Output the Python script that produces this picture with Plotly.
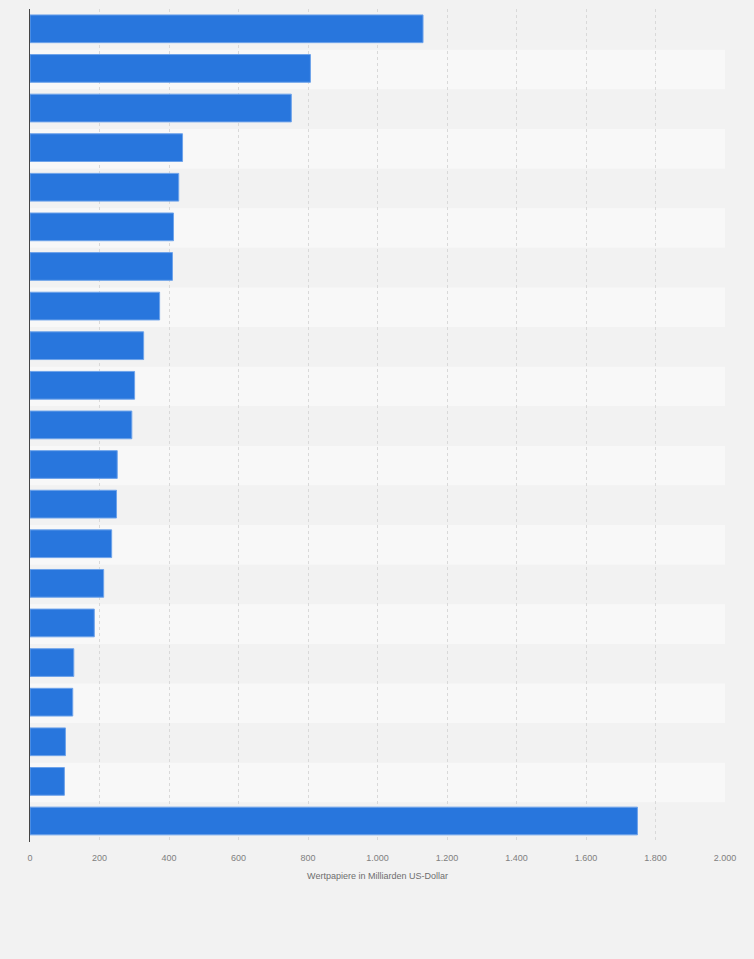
import plotly.graph_objects as go

# Werte in Milliarden US-Dollar (von oben nach unten)
categories = [f"Position {i}" for i in range(1, 22)]
values = [1131, 807, 752, 439, 428, 413, 410, 373, 327, 301, 293,
          251, 249, 235, 212, 185, 126, 123, 102, 99, 1748]
tick_values = [0, 200, 400, 600, 800, 1000, 1200, 1400, 1600, 1800, 2000]
x_title = "Wertpapiere in Milliarden US-Dollar"

fig = go.Figure()
fig.add_trace(
    go.Bar(
        x=values,
        y=categories,
        orientation="h",
        marker={"color": "#2876dd", "line": {"color": "#6ea3ea", "width": 1}},
        hoverinfo="x",
    )
)

# abwechselnde Zeilenstreifen
shapes = []
for i in range(len(categories)):
    shapes.append(
        dict(
            type="rect",
            xref="paper",
            yref="y",
            x0=0,
            x1=1,
            y0=i - 0.47,
            y1=i + 0.53,
            fillcolor="#f2f2f2" if i % 2 == 0 else "#f8f8f8",
            line={"width": 0},
            layer="below",
        )
    )

fig.update_layout(
    width=754,
    height=959,
    margin={"l": 30, "r": 29, "t": 9, "b": 117},
    paper_bgcolor="#f2f2f2",
    plot_bgcolor="#f2f2f2",
    separators=",.",
    bargap=0.3,
    showlegend=False,
    shapes=shapes,
    font={"family": "Liberation Sans, Arial, sans-serif", "color": "#666666"},
    xaxis={
        "range": [0, 2000],
        "tickvals": tick_values,
        "tickformat": ",d",
        "showgrid": True,
        "gridcolor": "#d9d9d9",
        "griddash": "dot",
        "gridwidth": 1,
        "zeroline": False,
        "tickfont": {"size": 9, "color": "#808080"},
        "ticklabelstandoff": 9,
        "title": {"text": x_title, "font": {"size": 9, "color": "#6e6e6e"}, "standoff": 10},
        "ticks": "",
    },
    yaxis={
        "autorange": "reversed",
        "showticklabels": False,
        "showgrid": False,
        "showline": True,
        "linecolor": "#444444",
        "linewidth": 1,
        "ticks": "",
    },
)

fig.write_html(
    "out.html",
    config={"displayModeBar": False},
    post_script="document.body.style.margin='0';document.body.style.background='#f2f2f2';",
)
